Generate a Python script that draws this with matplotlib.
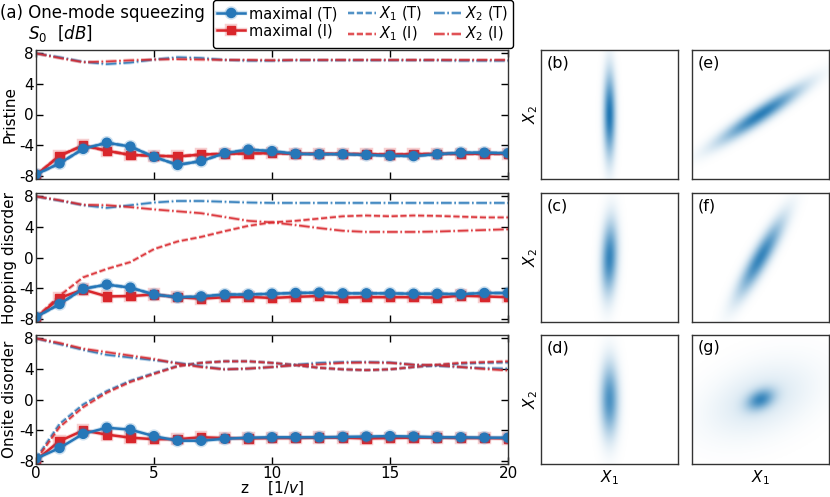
import numpy as np
import matplotlib
matplotlib.use('Agg')
import matplotlib.pyplot as plt
import matplotlib.patheffects as pe
from matplotlib.colors import LinearSegmentedColormap

plt.rcParams['axes.unicode_minus'] = False
plt.rcParams['font.family'] = 'DejaVu Sans'

# %% Data

z = np.arange(21)

# Pristine
pri_max_T = [-7.85, -6.4, -4.5, -3.7, -4.2, -5.55, -6.6, -6.1, -5.07, -4.6, -4.8,
             -5.15, -5.2, -5.2, -5.3, -5.4, -5.45, -5.2, -5.0, -5.0, -5.07]
pri_max_I = [-7.95, -5.4, -4.05, -4.75, -5.3, -5.4, -5.5, -5.25, -5.15, -5.1, -5.07,
             -5.15, -5.15, -5.15, -5.2, -5.25, -5.2, -5.15, -5.15, -5.15, -5.15]
pri_x2_T = [8.0, 7.5, 6.9, 6.6, 6.8, 7.2, 7.5, 7.4, 7.15, 7.05, 7.05,
            7.1, 7.1, 7.1, 7.1, 7.1, 7.1, 7.1, 7.05, 7.05, 7.05]
pri_x2_I = [8.0, 7.4, 6.85, 6.95, 7.1, 7.2, 7.25, 7.2, 7.15, 7.15, 7.1,
            7.15, 7.15, 7.15, 7.15, 7.15, 7.15, 7.15, 7.15, 7.15, 7.15]

# Hopping disorder
hop_max_T = [-7.8, -6.1, -4.1, -3.55, -3.95, -4.85, -5.2, -5.1, -4.85, -4.85, -4.75,
             -4.65, -4.6, -4.7, -4.7, -4.7, -4.75, -4.75, -4.8, -4.65, -4.65]
hop_max_I = [-7.9, -5.3, -4.2, -5.1, -5.05, -4.85, -5.2, -5.4, -5.2, -5.15, -5.3,
             -5.15, -5.05, -5.25, -5.2, -5.2, -5.2, -5.25, -5.0, -5.1, -5.2]
hop_x1_I = [-7.9, -5.0, -2.6, -1.5, -0.6, 1.1, 2.1, 2.7, 3.45, 4.15, 4.6,
            4.8, 5.1, 5.4, 5.5, 5.4, 5.5, 5.45, 5.35, 5.25, 5.25]
hop_x2_T = [8.0, 7.45, 6.85, 6.5, 6.85, 7.2, 7.4, 7.4, 7.3, 7.2, 7.15,
            7.15, 7.15, 7.15, 7.15, 7.15, 7.15, 7.15, 7.15, 7.15, 7.15]
hop_x2_I = [8.0, 7.5, 6.9, 6.85, 6.6, 6.3, 6.05, 5.8, 5.3, 4.8, 4.6,
            4.25, 3.85, 3.5, 3.35, 3.35, 3.35, 3.4, 3.5, 3.6, 3.7]

# Onsite disorder
ons_max_T = [-7.75, -6.35, -4.5, -3.7, -3.95, -4.8, -5.4, -5.4, -5.15, -5.0, -4.95,
             -4.95, -4.95, -4.9, -4.85, -4.8, -4.85, -4.95, -4.95, -5.0, -5.0]
ons_max_I = [-7.95, -5.45, -4.05, -4.6, -5.0, -5.2, -5.2, -4.95, -5.05, -5.1, -5.05,
             -5.05, -5.0, -5.0, -5.1, -5.05, -5.0, -5.0, -5.05, -5.05, -5.1]
ons_x1_T = [-7.75, -3.2, -0.65, 1.1, 2.45, 3.45, 4.4, 4.8, 5.0, 5.0, 4.8,
            4.5, 4.15, 3.95, 3.85, 3.95, 4.25, 4.5, 4.7, 4.8, 4.85]
ons_x1_I = [-7.95, -3.6, -1.0, 0.9, 2.3, 3.35, 4.35, 4.8, 5.0, 5.0, 4.8,
            4.5, 4.15, 3.95, 3.85, 3.95, 4.25, 4.55, 4.8, 4.9, 5.0]
ons_x2_T = [8.0, 7.25, 6.5, 5.85, 5.5, 5.15, 4.8, 4.35, 3.95, 4.05, 4.25,
            4.55, 4.8, 4.9, 4.9, 4.85, 4.55, 4.4, 4.25, 4.1, 4.05]
ons_x2_I = [8.0, 7.4, 6.65, 6.2, 5.75, 5.3, 4.7, 4.25, 3.95, 4.05, 4.25,
            4.5, 4.6, 4.8, 4.85, 4.8, 4.55, 4.5, 4.25, 4.0, 3.8]

row_labels = ['Pristine', 'Hopping disorder', 'Onsite disorder']

# Phase-space blobs: major sigma, minor sigma, angle [deg], peak, halo weight
img_labels = ['(b)', '(c)', '(d)', '(e)', '(f)', '(g)']
img_smaj = [2.2, 1.9, 1.9, 2.4, 2.2, 0.75]
img_smin = [0.3, 0.4, 0.45, 0.42, 0.45, 0.5]
img_ang = [90, 88, 90, 35, 62, 30]
img_peak = [1.0, 0.9, 0.8, 0.95, 0.9, 0.72]
img_halo = [0.0, 0.0, 0.0, 0.0, 0.0, 0.17]

# %% Styles

c_T = '#2677b8'
c_I = '#d9262b'
W, H = 830, 497


def glow(color, lw, a=0.3):
    return [pe.Stroke(linewidth=lw + 1.4, foreground=color, alpha=a), pe.Normal()]


def style_ax(ax):
    ax.tick_params(direction='in', top=True, right=True, length=5, width=1,
                   labelsize=11, colors='k', pad=1.5)
    for s in ax.spines.values():
        s.set_color('#333333')
        s.set_linewidth(1.0)


fig = plt.figure(figsize=(W / 100, H / 100), dpi=100)

rows = [(50, 179), (193, 322), (335, 464)]

series = [
    (pri_max_T, pri_max_I, pri_max_T, pri_max_I, pri_x2_T, pri_x2_I),
    (hop_max_T, hop_max_I, hop_max_T, hop_x1_I, hop_x2_T, hop_x2_I),
    (ons_max_T, ons_max_I, ons_x1_T, ons_x1_I, ons_x2_T, ons_x2_I),
]

handles = None
for i, (y0, y1) in enumerate(rows):
    ax = fig.add_axes([36 / W, 1 - y1 / H, 472 / W, (y1 - y0) / H])
    mT, mI, x1T, x1I, x2T, x2I = series[i]
    h3, = ax.plot(z, x1T, '--', color=c_T, lw=1.2, alpha=0.85,
                  path_effects=glow(c_T, 1.2))
    h4, = ax.plot(z, x1I, '--', color=c_I, lw=1.2, alpha=0.85,
                  path_effects=glow(c_I, 1.2))
    h5, = ax.plot(z, x2T, '-.', color=c_T, lw=1.2, alpha=0.85,
                  path_effects=glow(c_T, 1.2))
    h6, = ax.plot(z, x2I, '-.', color=c_I, lw=1.2, alpha=0.85,
                  path_effects=glow(c_I, 1.2))
    h2, = ax.plot(z, mI, '-', color=c_I, lw=1.8, marker='s', ms=6,
                  path_effects=glow(c_I, 1.8, 0.22))
    h1, = ax.plot(z, mT, '-', color=c_T, lw=1.8, marker='o', ms=6.5,
                  path_effects=glow(c_T, 1.8, 0.22))
    if handles is None:
        handles = [h1, h2, h3, h4, h5, h6]
    ax.set_xlim(0, 20)
    ax.set_ylim(-8.45, 8.45)
    ax.set_yticks([-8, -4, 0, 4, 8])
    ax.set_xticks([0, 5, 10, 15, 20])
    ax.set_ylabel(row_labels[i], fontsize=11, labelpad=1)
    style_ax(ax)
    if i < 2:
        ax.set_xticklabels([])
    else:
        ax.set_xlabel('z    [1/$v$]', fontsize=11, labelpad=-1)

fig.text(0.0, 1 - 13 / H, '(a) One-mode squeezing', fontsize=12, va='center', ha='left')
fig.text(28 / W, 1 - 33 / H, '$S_0$  [$dB$]', fontsize=12, va='center', ha='left')

labels = ['maximal (T)', 'maximal (I)', '$X_1$ (T)', '$X_1$ (I)', '$X_2$ (T)', '$X_2$ (I)']
leg = fig.legend(handles, labels, ncol=3, loc='upper left',
                 bbox_to_anchor=(213 / W, 1.0), fontsize=10.5, frameon=True,
                 handlelength=1.9, columnspacing=0.75, handletextpad=0.25,
                 labelspacing=0.15, borderpad=0.3, borderaxespad=0.0)
leg.get_frame().set_edgecolor('k')
leg.get_frame().set_alpha(1.0)

# %% Phase-space pictures

cmap = LinearSegmentedColormap.from_list('wb', ['#ffffff', '#1f77b4'])
g = np.linspace(-5, 5, 200)
GX, GY = np.meshgrid(g, g)


def blob(smaj, smin, ang):
    a = np.deg2rad(ang)
    u = GX * np.cos(a) + GY * np.sin(a)
    v = -GX * np.sin(a) + GY * np.cos(a)
    return np.exp(-u**2 / (2 * smaj**2) - v**2 / (2 * smin**2))


cols = [541, 692]
for k in range(6):
    col, row = k // 3, k % 3
    y0, y1 = rows[row]
    ax = fig.add_axes([cols[col] / W, 1 - y1 / H, 137 / W, (y1 - y0) / H])
    img = img_peak[k] * blob(img_smaj[k], img_smin[k], img_ang[k])
    if img_halo[k] > 0:
        img = img + img_halo[k] * blob(2.8, 1.7, 25)
    ax.imshow(img, cmap=cmap, vmin=0, vmax=1, origin='lower',
              extent=[-5, 5, -5, 5], aspect='auto', interpolation='bilinear')
    ax.set_xticks([])
    ax.set_yticks([])
    for s in ax.spines.values():
        s.set_color('#333333')
        s.set_linewidth(1.0)
    ax.text(0.04, 0.96, img_labels[k], transform=ax.transAxes, fontsize=11.5,
            va='top', ha='left')
    if col == 0:
        ax.set_ylabel('$X_2$', fontsize=11, labelpad=1)
    if row == 2:
        ax.set_xlabel('$X_1$', fontsize=11, labelpad=3)

fig.savefig('out.png', dpi=100)
